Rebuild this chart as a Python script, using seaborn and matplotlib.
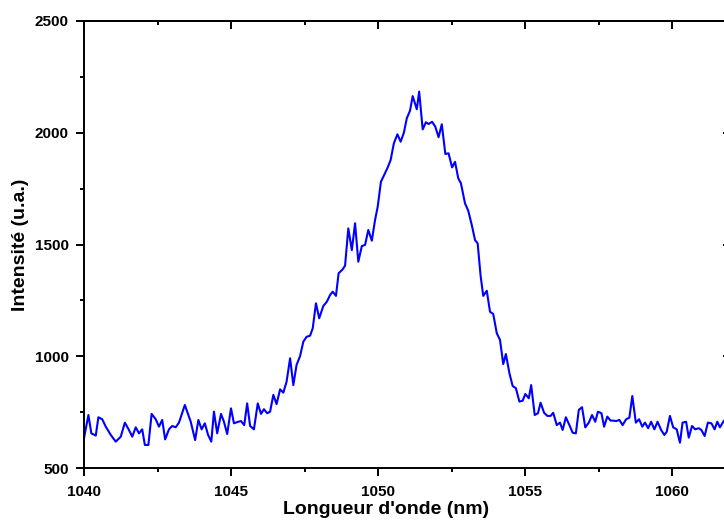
import matplotlib
matplotlib.use("Agg")
import matplotlib.pyplot as plt
import seaborn as sns
import pandas as pd
from matplotlib.ticker import MultipleLocator

# Wavelength (nm) and intensity (u.a.)
wavelength = [
    1040.00, 1040.15, 1040.25, 1040.40, 1040.49, 1040.62, 1040.74, 1040.91, 1041.08, 1041.25,
    1041.39, 1041.53, 1041.64, 1041.76, 1041.87, 1041.98, 1042.07, 1042.19, 1042.30, 1042.44,
    1042.55, 1042.66, 1042.76, 1042.89, 1043.00, 1043.12, 1043.23, 1043.43, 1043.63, 1043.78,
    1043.89, 1044.00, 1044.11, 1044.22, 1044.33, 1044.42, 1044.53, 1044.66, 1044.76, 1044.87,
    1045.00, 1045.10, 1045.25, 1045.34, 1045.45, 1045.55, 1045.65, 1045.78, 1045.91, 1046.02,
    1046.12, 1046.23, 1046.33, 1046.44, 1046.55, 1046.67, 1046.78, 1046.89, 1047.01, 1047.12,
    1047.23, 1047.35, 1047.46, 1047.57, 1047.69, 1047.78, 1047.89, 1048.00, 1048.14, 1048.26,
    1048.37, 1048.46, 1048.57, 1048.66, 1048.80, 1048.88, 1048.99, 1049.11, 1049.22, 1049.33,
    1049.45, 1049.56, 1049.67, 1049.79, 1049.90, 1049.99, 1050.10, 1050.21, 1050.33, 1050.43,
    1050.54, 1050.66, 1050.77, 1050.88, 1050.98, 1051.09, 1051.18, 1051.32, 1051.40, 1051.52,
    1051.63, 1051.72, 1051.84, 1051.95, 1052.06, 1052.17, 1052.29, 1052.40, 1052.52, 1052.62,
    1052.73, 1052.82, 1052.96, 1053.07, 1053.19, 1053.30, 1053.39, 1053.49, 1053.58, 1053.70,
    1053.81, 1053.92, 1054.04, 1054.15, 1054.26, 1054.35, 1054.47, 1054.58, 1054.69, 1054.81,
    1054.92, 1055.01, 1055.13, 1055.21, 1055.33, 1055.44, 1055.53, 1055.65, 1055.76, 1055.87,
    1055.96, 1056.08, 1056.19, 1056.28, 1056.39, 1056.51, 1056.62, 1056.73, 1056.83, 1056.94,
    1057.05, 1057.17, 1057.28, 1057.39, 1057.48, 1057.60, 1057.69, 1057.80, 1057.91, 1058.00,
    1058.10, 1058.21, 1058.32, 1058.44, 1058.55, 1058.65, 1058.77, 1058.88, 1058.99, 1059.08,
    1059.19, 1059.29, 1059.40, 1059.51, 1059.63, 1059.74, 1059.82, 1059.93, 1060.04, 1060.16,
    1060.27, 1060.36, 1060.48, 1060.57, 1060.68, 1060.79, 1060.91, 1061.00, 1061.11, 1061.22,
    1061.34, 1061.45, 1061.54, 1061.63, 1061.77, 1061.88,
]
intensity = [
    633, 737, 655, 645, 727, 718, 685, 648, 618, 640,
    703, 670, 640, 682, 655, 673, 603, 603, 742, 718,
    685, 715, 628, 673, 688, 682, 703, 782, 707, 625,
    715, 673, 700, 648, 618, 752, 655, 742, 707, 652,
    767, 700, 707, 710, 692, 789, 688, 673, 789, 742,
    763, 745, 752, 827, 786, 852, 837, 886, 991, 871,
    961, 1001, 1065, 1087, 1092, 1125, 1237, 1170, 1225, 1244,
    1274, 1289, 1270, 1371, 1389, 1406, 1572, 1475, 1595, 1423,
    1493, 1498, 1565, 1517, 1610, 1669, 1781, 1811, 1845, 1878,
    1953, 1993, 1960, 2000, 2065, 2099, 2164, 2105, 2184, 2015,
    2047, 2039, 2049, 2027, 1980, 2038, 1905, 1908, 1845, 1870,
    1796, 1774, 1684, 1651, 1587, 1520, 1505, 1360, 1270, 1293,
    1199, 1189, 1103, 1073, 965, 1010, 924, 867, 857, 797,
    801, 831, 812, 871, 737, 745, 792, 747, 733, 733,
    747, 692, 703, 670, 727, 692, 658, 655, 760, 772,
    682, 703, 737, 707, 752, 745, 685, 730, 712, 712,
    710, 715, 692, 718, 725, 822, 703, 718, 685, 703,
    678, 707, 673, 707, 670, 648, 662, 733, 682, 673,
    613, 703, 707, 636, 688, 673, 678, 670, 643, 703,
    700, 673, 707, 682, 712, 700,
]
x_ticks = [1040, 1045, 1050, 1055, 1060]
y_ticks = [500, 1000, 1500, 2000, 2500]
x_label = "Longueur d'onde (nm)"
y_label = "Intensité (u.a.)"

sns.set_theme(style="ticks")
plt.rcParams['font.family'] = ['Liberation Sans', 'DejaVu Sans']
plt.rcParams['font.weight'] = 'bold'
plt.rcParams['text.color'] = 'black'
plt.rcParams['axes.labelcolor'] = 'black'
plt.rcParams['xtick.color'] = 'black'
plt.rcParams['ytick.color'] = 'black'

df = pd.DataFrame({"wavelength": wavelength, "intensity": intensity})

fig = plt.figure(figsize=(7.24, 5.2), dpi=100)
ax = fig.add_axes([84 / 724, 52 / 520, 646.8 / 724, 447 / 520])

sns.lineplot(data=df, x="wavelength", y="intensity", ax=ax, color="#0000ff",
             linewidth=1.5, estimator=None, sort=False)

ax.set_xlim(1040, 1062)
ax.set_ylim(500, 2500)
ax.set_xticks(x_ticks)
ax.set_yticks(y_ticks)
ax.xaxis.set_minor_locator(MultipleLocator(2.5))
ax.yaxis.set_minor_locator(MultipleLocator(250))

for side in ["left", "bottom", "top", "right"]:
    ax.spines[side].set_visible(True)
    ax.spines[side].set_linewidth(1.4)
    ax.spines[side].set_color("black")

ax.tick_params(axis="both", which="major", length=6, width=1.4, color="black",
               labelsize=11, labelcolor="black")
ax.tick_params(axis="both", which="minor", length=3, width=1.4, color="black")
ax.tick_params(axis="x", which="both", direction="out", bottom=True, pad=6)
ax.tick_params(axis="y", which="both", direction="out", left=True, pad=5)
# inward ticks on top and right
ax_top = ax.secondary_xaxis("top")
ax_top.set_xticks(x_ticks)
ax_top.xaxis.set_minor_locator(MultipleLocator(2.5))
ax_top.tick_params(which="major", direction="in", length=6, width=1.4, labeltop=False, color="black")
ax_top.tick_params(which="minor", direction="in", length=3, width=1.4, color="black")
ax_top.spines["top"].set_linewidth(1.4)
ax_top.spines["top"].set_color("black")
ax_right = ax.secondary_yaxis("right")
ax_right.set_yticks(y_ticks)
ax_right.yaxis.set_minor_locator(MultipleLocator(250))
ax_right.tick_params(which="major", direction="in", length=6, width=1.4, labelright=False, color="black")
ax_right.tick_params(which="minor", direction="in", length=3, width=1.4, color="black")

for lab in ax.get_xticklabels() + ax.get_yticklabels():
    lab.set_fontweight("bold")
    lab.set_color("black")

ax.set_xlabel(x_label, fontsize=14, fontweight="bold", color="black")
ax.set_ylabel(y_label, fontsize=14, fontweight="bold", color="black")
ax.xaxis.set_label_coords((386 - 84) / 646.8, -(510 - 468) / 447)
ax.yaxis.set_label_coords(-(84 - 20) / 646.8, 0.5)
ax.xaxis.label.set_verticalalignment("center")
ax.yaxis.label.set_verticalalignment("center")

fig.savefig("out.png", dpi=100)
